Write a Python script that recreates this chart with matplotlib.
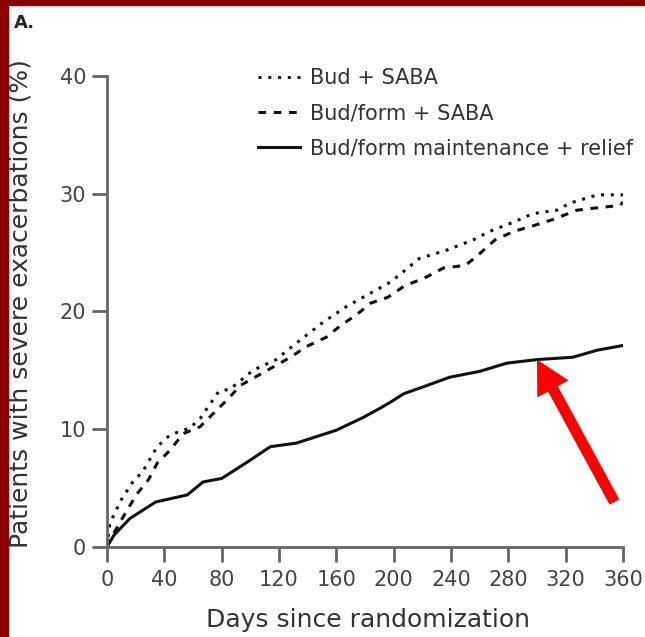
import matplotlib.pyplot as plt
from matplotlib.patches import Rectangle

# Kaplan-Meier style cumulative curves
days_bud = [0, 2, 10, 18, 25, 35, 44, 58, 65, 78, 86, 102, 118, 130, 151, 167, 186, 198,
            204, 218, 237, 256, 267, 284, 297, 314, 323, 342, 360]
bud_saba = [0, 2.0, 4.0, 5.5, 6.4, 8.5, 9.5, 10.1, 10.9, 13.2, 13.4, 15.0, 15.9, 17.1, 19.1,
            20.4, 21.7, 22.5, 23.1, 24.5, 25.2, 26.1, 26.8, 27.6, 28.3, 28.6, 29.2, 29.9, 29.9]

days_form = [0, 5, 14, 21, 29, 35, 44, 53, 65, 74, 84, 93, 128, 139, 153, 163, 174, 184,
             196, 208, 221, 235, 250, 260, 271, 284, 298, 311, 328, 342, 358, 360]
form_saba = [0, 1.2, 3.1, 4.5, 5.7, 7.1, 8.2, 9.6, 10.2, 11.3, 12.5, 13.7, 16.1, 17.0, 17.8,
             18.8, 19.7, 20.7, 21.2, 22.2, 22.8, 23.7, 23.9, 24.9, 26.1, 26.8, 27.3, 27.8,
             28.6, 28.8, 29.0, 29.3]

days_smart = [0, 5, 16, 34, 56, 67, 80, 98, 114, 132, 160, 179, 191, 198, 207, 221, 239,
              260, 279, 300, 325, 342, 360]
smart = [0, 1.0, 2.4, 3.8, 4.4, 5.5, 5.8, 7.2, 8.5, 8.8, 9.9, 11.0, 11.8, 12.3, 13.0, 13.6,
         14.4, 14.9, 15.6, 15.9, 16.1, 16.7, 17.1]

labels = ["Bud + SABA", "Bud/form + SABA", "Bud/form maintenance + relief"]
x_ticks = [0, 40, 80, 120, 160, 200, 240, 280, 320, 360]
y_ticks = [0, 10, 20, 30, 40]

fig = plt.figure(figsize=(6.45, 6.37), dpi=100)
ax = fig.add_axes([107 / 645, 1 - 546.7 / 637, 516 / 645, 470.7 / 637])

# dark red frame on top and left
fig.patches.append(Rectangle((0, 0), 8 / 645, 1, transform=fig.transFigure,
                             color="#8B0000", zorder=0))
fig.patches.append(Rectangle((0, 1 - 5 / 637), 1, 5 / 637, transform=fig.transFigure,
                             color="#8B0000", zorder=0))

ink = "#111111"
ax.plot(days_bud, bud_saba, color=ink, lw=2.2, linestyle=(0, (1, 2.2)), label=labels[0])
ax.plot(days_form, form_saba, color=ink, lw=2.2, linestyle=(0, (2.5, 2.5)), label=labels[1])
ax.plot(days_smart, smart, color=ink, lw=2.2, label=labels[2])

ax.set_xlim(0, 360)
ax.set_ylim(0, 40)
ax.set_xticks(x_ticks)
ax.set_yticks(y_ticks)

for side in ["top", "right"]:
    ax.spines[side].set_visible(False)
for side in ["left", "bottom"]:
    ax.spines[side].set_color("#666666")
    ax.spines[side].set_linewidth(2)

ax.tick_params(axis="both", length=11, width=2, color="#666666",
               labelcolor="#444444", labelsize=15)
ax.tick_params(axis="x", pad=6)
ax.tick_params(axis="y", pad=4)

ax.set_ylabel("Patients with severe exacerbations (%)", fontsize=18, color="#333333")
ax.yaxis.set_label_coords(-0.145, 0.516)
ax.set_xlabel("Days since randomization", fontsize=18, color="#333333", va="top")
ax.xaxis.set_label_coords(0.506, -0.13)

ax.legend(loc="upper left", bbox_to_anchor=(0.293, 1.016), frameon=False,
          borderpad=0, borderaxespad=0, handlelength=2.0, handletextpad=0.5,
          labelspacing=0.72, fontsize=15, labelcolor="#333333")

# red arrow pointing at the solid curve
ax.annotate("", xy=(300, 15.9), xytext=(354, 3.8),
            arrowprops=dict(arrowstyle="simple,head_length=1.5,head_width=1.6,tail_width=0.5",
                            mutation_scale=16, facecolor="#FF0000", edgecolor="none",
                            shrinkA=0, shrinkB=0))

fig.text(14 / 645, 1 - 23 / 637, "A.", fontsize=13, fontweight="bold",
         color="#222222", va="center", ha="left")

fig.savefig("out.png", dpi=100)
